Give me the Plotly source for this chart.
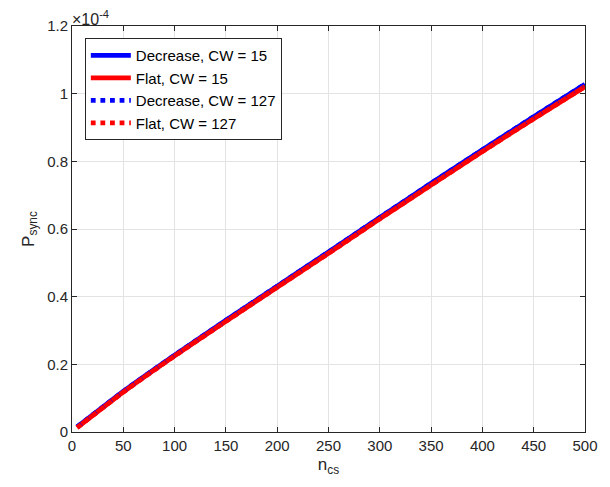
import plotly.graph_objects as go

# Number of contending stations
n_cs = [5, 50, 100, 150, 200, 250, 300, 350, 400, 450, 500]

# Synchronization probability, in units of 1e-4
dec_cw15 = [0.015, 0.120, 0.227, 0.330, 0.431, 0.532, 0.634, 0.735, 0.834, 0.932, 1.028]
flat_cw15 = [0.013, 0.118, 0.225, 0.327, 0.428, 0.528, 0.630, 0.730, 0.829, 0.926, 1.021]
dec_cw127 = [0.015, 0.120, 0.227, 0.330, 0.431, 0.532, 0.634, 0.735, 0.834, 0.932, 1.028]
flat_cw127 = [0.013, 0.118, 0.225, 0.327, 0.428, 0.528, 0.630, 0.730, 0.829, 0.926, 1.021]

y_ticks = [0, 0.2, 0.4, 0.6, 0.8, 1.0, 1.2]
y_tick_text = ["0", "0.2", "0.4", "0.6", "0.8", "1", "1.2"]
x_ticks = list(range(0, 501, 50))

series = [
    ("Decrease, CW = 15", dec_cw15, "#0000ff", "solid"),
    ("Flat, CW = 15", flat_cw15, "#ff0000", "solid"),
    ("Decrease, CW = 127", dec_cw127, "#0000ff", "dot"),
    ("Flat, CW = 127", flat_cw127, "#ff0000", "dot"),
]

FONT = "Liberation Sans, Arial, sans-serif"

fig = go.Figure()
for name, vals, color, dash in series:
    fig.add_trace(go.Scatter(
        x=n_cs, y=vals, mode="lines", name=name,
        line=dict(color=color, width=4.8, dash=dash, shape="spline", smoothing=0.5),
    ))

axis_common = dict(
    showline=True, linecolor="#262626", linewidth=1, mirror="ticks",
    ticks="inside", ticklen=5, tickcolor="#262626",
    showgrid=True, gridcolor="#e3e3e3", gridwidth=1,
    zeroline=False,
    tickfont=dict(family=FONT, size=15, color="#262626"),
)

fig.update_layout(
    width=610, height=487,
    margin=dict(l=72, r=17, t=26, b=55),
    paper_bgcolor="white", plot_bgcolor="white",
    font=dict(family=FONT, size=14, color="#262626"),
    xaxis=dict(range=[0, 500], tickvals=x_ticks,
               title=dict(text="n<sub>cs</sub>", standoff=5,
                          font=dict(size=17, color="#262626")),
               **axis_common),
    yaxis=dict(range=[0, 1.2], tickvals=y_ticks, ticktext=y_tick_text,
               title=dict(text="P<sub>sync</sub>", standoff=8,
                          font=dict(size=17, color="#262626")),
               **axis_common),
    legend=dict(
        x=0.025, y=0.97, xanchor="left", yanchor="top",
        bgcolor="white", bordercolor="#262626", borderwidth=1,
        font=dict(family=FONT, size=15, color="#000000"),
        tracegroupgap=0, itemwidth=40,
    ),
    showlegend=True,
)

fig.add_annotation(
    x=0, y=1, xref="paper", yref="paper", xanchor="left", yanchor="bottom",
    text="×10<sup>-4</sup>", showarrow=False,
    font=dict(family=FONT, size=16, color="#262626"), yshift=-4, xshift=-2,
)

fig.write_html("out.html")
